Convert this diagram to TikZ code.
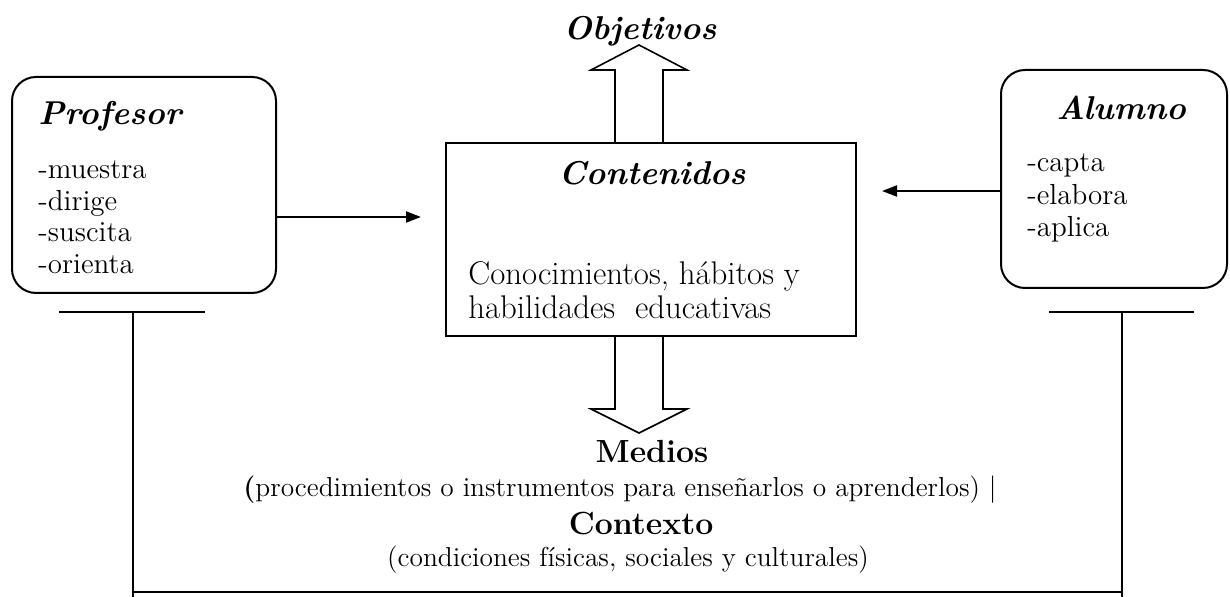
\documentclass[tikz,border=0pt]{standalone}
\usepackage{tikz}
\usetikzlibrary{arrows.meta, positioning}
\tikzstyle{caja}=[draw, line width=1pt, inner sep=0pt]
\tikzstyle{redonda}=[caja, rounded corners=12pt]
\tikzstyle{titulo}=[font=\fontsize{16.5}{18}\selectfont\bfseries\itshape, anchor=base, inner sep=0pt]
\tikzstyle{item}=[font=\fontsize{14.5}{16}\selectfont, anchor=base west, inner sep=0pt]
\tikzstyle{texto}=[font=\fontsize{16.4}{18}\selectfont, anchor=base west, inner sep=0pt]
\tikzstyle{negrita}=[font=\fontsize{16}{18}\selectfont\bfseries, anchor=base, inner sep=0pt]
\tikzstyle{nota}=[font=\fontsize{13.7}{15}\selectfont, anchor=base, inner sep=0pt]
\tikzstyle{flecha}=[line width=1pt, -{Triangle[length=7.5pt,width=5.5pt]}]
\tikzstyle{bloque}=[line width=0.8pt, line join=miter]
\tikzstyle{linea}=[line width=1pt]

\begin{document}
\begin{tikzpicture}[x=0.5pt, y=-0.5pt]
          \useasboundingbox (0,0) rectangle (1230,597);

          % cajas
          \node[redonda, minimum width=132pt, minimum height=108pt] (prof) at (144,185) {};
          \node[redonda, minimum width=113pt, minimum height=109pt] (alum) at (1114,179) {};
          \node[caja, minimum width=205pt, minimum height=96.5pt]   (cont) at (651,239.5) {};

          % titulos
          \node[titulo, anchor=base west] (tprof) at (38,125)  {Profesor};
          \node[titulo]                   (talum) at (1121,120) {Alumno};
          \node[titulo]                   (tcont) at (652,185)  {Contenidos};
          \node[titulo]                   (obj)   at (640,40)   {Objetivos};

          % listas
          \foreach \t [count=\i] in {muestra,dirige,suscita,orienta}
            \node[item] (p\i) at (38,{179+31.4*(\i-1)}) {-\t};
          \foreach \t [count=\i] in {capta,elabora,aplica}
            \node[item] (a\i) at (1027,{172+32.5*(\i-1)}) {-\t};

          \node[texto] (c1) at (468,285) {Conocimientos, hábitos y};
          \node[texto] (c2) at (468,319) {habilidades\ \ educativas};

          % medios y contexto
          \node[negrita] (medios) at (652,463) {Medios};
          \node[nota]    (proc)   at (620,497) {\textbf{(}procedimientos o instrumentos para enseñarlos o aprenderlos) |};
          \node[negrita] (ctx)    at (641,535) {Contexto};
          \node[nota]    (cond)   at (628,567) {(condiciones físicas, sociales y culturales)};

          % flechas
          \coordinate (fin1) at (421,217);
          \coordinate (fin2) at (882,191);
          \draw[flecha] (prof.east |- fin1) -- (fin1);
          \draw[flecha] (alum.west |- fin2) -- (fin2);

          \draw[bloque] ([xshift=-18pt]cont.north) -- ++(0,-72) -- ++(-24,0) -- ++(48,-25)
                        -- ++(48,25) -- ++(-24,0) -- ++(0,72);
          \draw[bloque] ([xshift=-18pt]cont.south) -- ++(0,72) -- ++(-24,0) -- ++(48,24)
                        -- ++(48,-24) -- ++(-24,0) -- ++(0,-72);

          % marco inferior
          \coordinate (tp) at (133,312);
          \coordinate (ta) at (1122,312);
          \draw[linea] ([xshift=-37pt]tp) -- ([xshift=36pt]tp);
          \draw[linea] ([xshift=-36.5pt]ta) -- ([xshift=36pt]ta);
          \draw[linea] (tp) -- ++(0,285);
          \draw[linea] (ta) -- ++(0,285);
          \draw[linea] (tp |- 0,592) -- (ta |- 0,592);
        \end{tikzpicture}
\end{document}
